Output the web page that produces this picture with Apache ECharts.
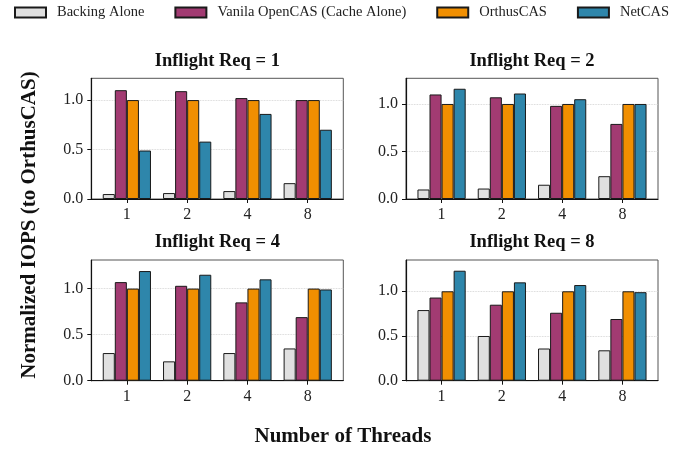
<!DOCTYPE html>
<html><head><meta charset="utf-8">
<script src="https://cdn.jsdelivr.net/npm/echarts@6/dist/echarts.min.js"></script>
<style>html,body{margin:0;padding:0;background:#fff}#c{width:688px;height:452px}</style>
</head><body><div id="c"></div>
<script>
// ---- data ----
const threads = ['1', '2', '4', '8'];
const panelTitles = ['Inflight Req = 1', 'Inflight Req = 2', 'Inflight Req = 4', 'Inflight Req = 8'];
const seriesNames = ['Backing Alone', 'Vanila OpenCAS (Cache Alone)', 'OrthusCAS', 'NetCAS'];
const backingAlone = [[0.05, 0.06, 0.08, 0.16], [0.10, 0.11, 0.15, 0.24], [0.30, 0.21, 0.30, 0.35], [0.79, 0.50, 0.36, 0.34]];
const vanilaOpenCAS = [[1.10, 1.09, 1.02, 1.00], [1.10, 1.07, 0.98, 0.79], [1.07, 1.03, 0.85, 0.69], [0.93, 0.85, 0.76, 0.69]];
const orthusCAS = [[1.00, 1.00, 1.00, 1.00], [1.00, 1.00, 1.00, 1.00], [1.00, 1.00, 1.00, 1.00], [1.00, 1.00, 1.00, 1.00]];
const netCAS = [[0.49, 0.58, 0.86, 0.70], [1.16, 1.11, 1.05, 1.00], [1.19, 1.15, 1.10, 0.99], [1.23, 1.10, 1.07, 0.99]];
const yMax = [1.22, 1.27, 1.31, 1.35];
const yTicks = [0, 0.5, 1.0];

// ---- styling / layout ----
const colors = ['#e0e0e0', '#a23b72', '#f18f01', '#2e86ab'];
const FONT = 'Liberation Serif';
const W = 252, H = 120.7;
const gridPos = [[91.3, 78.3], [406, 78.3], [91.3, 260], [406, 260]];
const allData = [backingAlone, vanilaOpenCAS, orthusCAS, netCAS];

const grid = gridPos.map(p => ({left: p[0], top: p[1], width: W, height: H, show: true,
  borderColor: '#555', borderWidth: 1, containLabel: false}));
const xAxis = gridPos.map((p, i) => ({
  type: 'value', gridIndex: i, min: -0.59, max: 3.59,
  axisLine: {show: true, onZero: false, lineStyle: {color: '#111', width: 1.2}},
  axisTick: {show: true, customValues: [0, 1, 2, 3], length: 4, lineStyle: {color: '#111'}},
  axisLabel: {customValues: [0, 1, 2, 3], formatter: v => threads[Math.round(v)], margin: 8,
    fontFamily: FONT, fontSize: 16, color: '#222'},
  splitLine: {show: false}
}));
const yAxis = gridPos.map((p, i) => ({
  type: 'value', gridIndex: i, min: 0, max: yMax[i], interval: 0.5,
  axisLine: {show: true, onZero: false, lineStyle: {color: '#111', width: 1.2}},
  axisTick: {show: true, customValues: yTicks, length: 4, lineStyle: {color: '#111'}},
  axisLabel: {customValues: yTicks, formatter: v => v.toFixed(1), margin: 8,
    fontFamily: FONT, fontSize: 16, color: '#222'},
  splitLine: {show: true, lineStyle: {color: '#cccccc', type: 'dotted', width: 0.8}}
}));

const series = [];
for (let p = 0; p < 4; p++) {
  for (let s = 0; s < 4; s++) {
    series.push({
      type: 'bar', name: seriesNames[s], xAxisIndex: p, yAxisIndex: p,
      data: allData[s][p].map((v, i) => [i, v]),
      barGap: '0%', barCategoryGap: '20%',
      itemStyle: {color: colors[s], borderColor: '#1a1a1a', borderWidth: 1},
      emphasis: {disabled: true}, silent: true
    });
  }
}

const titles = panelTitles.map((t, i) => ({
  text: t, left: gridPos[i][0] + W / 2, top: gridPos[i][1] - 27, textAlign: 'center', padding: 0,
  textStyle: {fontFamily: FONT, fontWeight: 'bold', fontSize: 18.5, color: '#111'}
}));
titles.push({text: 'Number of Threads', left: 343, top: 426, textAlign: 'center', padding: 0,
  textStyle: {fontFamily: FONT, fontWeight: 'bold', fontSize: 21, color: '#111'}});

const option = {
  animation: false,
  backgroundColor: '#fff',
  title: titles,
  legend: {
    data: seriesNames, left: 14, top: 5, padding: 0, itemGap: 30, itemWidth: 31, itemHeight: 10,
    icon: 'rect', selectedMode: false,
    textStyle: {fontFamily: FONT, fontSize: 14.5, color: '#222', padding: [0, 0, 0, 6]}
  },
  grid, xAxis, yAxis, series,
  graphic: [{
    type: 'text', x: 30, y: 225, rotation: Math.PI / 2,
    style: {text: 'Normalized IOPS (to OrthusCAS)', fontFamily: FONT, fontWeight: 'bold', fontSize: 21,
      fill: '#111', align: 'center', verticalAlign: 'middle'}
  }]
};
const chart = echarts.init(document.getElementById('c'), null, {renderer: 'canvas'});
chart.setOption(option);
</script></body></html>
